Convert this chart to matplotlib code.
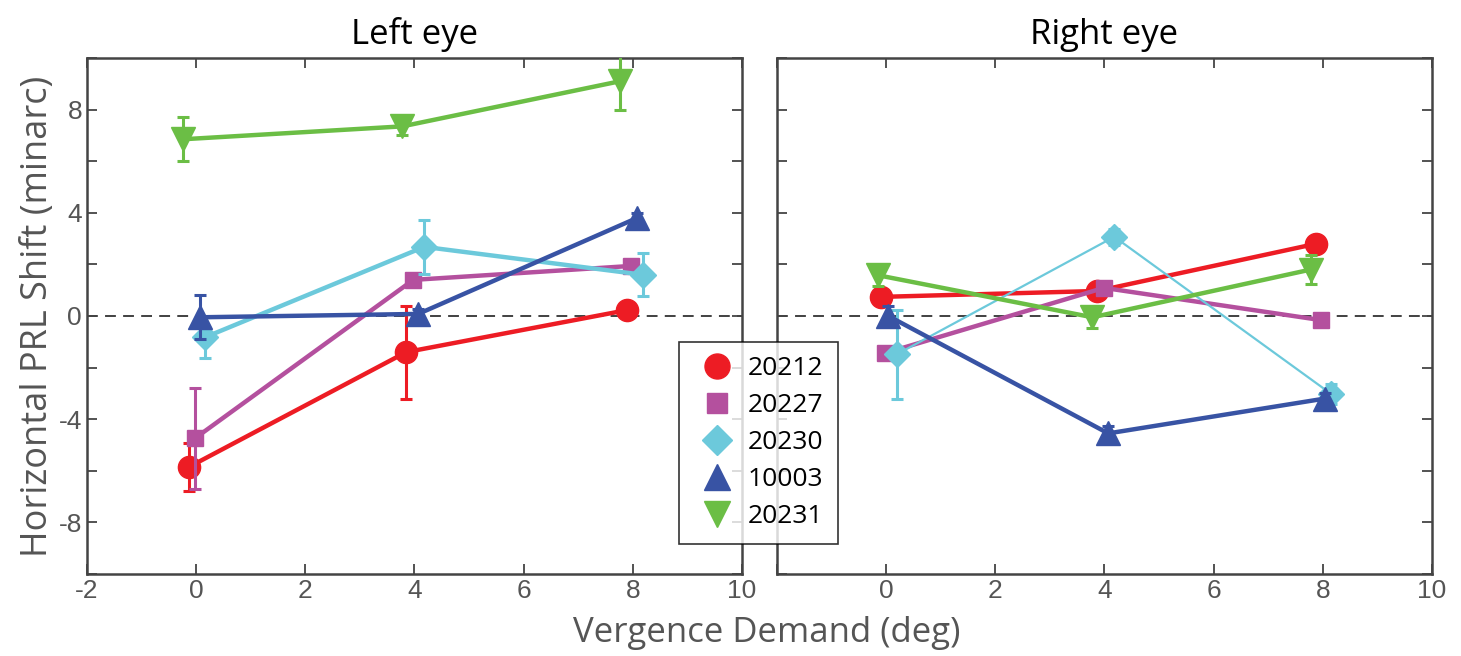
import matplotlib
matplotlib.use("Agg")
import matplotlib.pyplot as plt

plt.rcParams['axes.unicode_minus'] = False

subjects = ["20212", "20227", "20230", "10003", "20231"]
colors = ["#ED1C24", "#B4509E", "#6CC9DB", "#3853A4", "#6BBE45"]
markers = ["o", "s", "D", "^", "v"]
msizes = [16, 12, 13, 17, 17]

# left eye: x (deg, slightly jittered as in the figure), shift, error
left_x = [[-0.13, 3.85, 7.9],
          [-0.02, 3.98, 7.97],
          [0.17, 4.18, 8.18],
          [0.07, 4.07, 8.08],
          [-0.24, 3.78, 7.77]]
left_y = [[-5.85, -1.4, 0.23],
          [-4.74, 1.4, 1.94],
          [-0.82, 2.68, 1.6],
          [-0.05, 0.08, 3.8],
          [6.85, 7.35, 9.1]]
left_err = [[0.93, 1.8, 0.2],
            [1.95, 0.2, 0.2],
            [0.8, 1.05, 0.83],
            [0.85, 0.2, 0.2],
            [0.85, 0.35, 1.1]]

# right eye
right_x = [[-0.1, 3.87, 7.88],
           [-0.02, 3.99, 7.97],
           [0.2, 4.18, 8.16],
           [0.04, 4.07, 8.04],
           [-0.15, 3.78, 7.78]]
right_y = [[0.74, 0.97, 2.8],
           [-1.44, 1.09, -0.16],
           [-1.48, 3.07, -3.03],
           [0.0, -4.55, -3.2],
           [1.58, -0.05, 1.8]]
right_err = [[0.2, 0.2, 0.2],
             [0.2, 0.2, 0.2],
             [1.72, 0.3, 0.4],
             [0.4, 0.3, 0.2],
             [0.4, 0.4, 0.55]]

gray = "#555555"
fig = plt.figure(figsize=(14.61, 6.56), dpi=100)
axL = fig.add_axes([0.0595, 0.125, 0.4483, 0.7866])
axR = fig.add_axes([0.5318, 0.125, 0.4483, 0.7866])

handles = []
for ax, xs, ys, es, side in [(axL, left_x, left_y, left_err, "L"), (axR, right_x, right_y, right_err, "R")]:
    ax.axhline(0, color="#333333", lw=1.3, ls=(0, (6, 4)), zorder=1)
    for i in range(len(subjects)):
        lw = 3.2
        if side == "R" and i == 2:
            lw = 1.6
        ax.errorbar(xs[i], ys[i], yerr=es[i], color=colors[i], lw=lw, elinewidth=2.2,
                    capsize=4, capthick=2.2, marker=markers[i], ms=msizes[i],
                    mec=colors[i], mfc=colors[i], zorder=3 + i)
        if side == "L":
            h, = ax.plot([], [], ls="none", marker=markers[i], ms=msizes[i] + 2,
                         color=colors[i], label=subjects[i])
            handles.append(h)
    ax.set_xlim(-2, 10)
    ax.set_ylim(-10, 10)
    ax.set_xticks(range(-2, 11, 2))
    ax.set_yticks(range(-10, 11, 2))
    ax.tick_params(direction="in", length=7, width=1.3, top=True, right=True,
                   colors="#444444", labelsize=19, labelcolor=gray)
    for s in ax.spines.values():
        s.set_color("#444444")
        s.set_linewidth(1.8)

axL.set_yticklabels([str(v) if v % 4 == 0 and abs(v) < 10 else "" for v in range(-10, 11, 2)])
axR.set_yticklabels([])
axR.set_xticklabels(["" if v == -2 else str(v) for v in range(-2, 11, 2)])
for lab in axL.get_xticklabels() + axL.get_yticklabels() + axR.get_xticklabels():
    lab.set_fontfamily(["Liberation Sans Narrow", "Liberation Sans", "DejaVu Sans"])

axL.set_title("Left eye", fontsize=25, fontfamily="Open Sans", pad=10)
axR.set_title("Right eye", fontsize=25, fontfamily="Open Sans", pad=10)
axL.set_ylabel("Horizontal PRL Shift (minarc)", fontsize=26, color=gray,
               fontfamily="Open Sans", labelpad=2)
fig.text(0.525, 0.035, "Vergence Demand (deg)", fontsize=25, color=gray,
         fontfamily="Open Sans", ha="center", va="center")

leg = fig.legend(handles=handles, loc="upper left", bbox_to_anchor=(0.4648, 0.4787),
                 frameon=True, fancybox=False, edgecolor="black",
                 handletextpad=0.25, labelspacing=0.45, borderpad=0.55, borderaxespad=0,
                 handlelength=1.8, prop={"family": "Open Sans", "size": 19})
leg.get_frame().set_linewidth(1.2)
leg.set_zorder(20)

fig.savefig("out.png", dpi=100)
